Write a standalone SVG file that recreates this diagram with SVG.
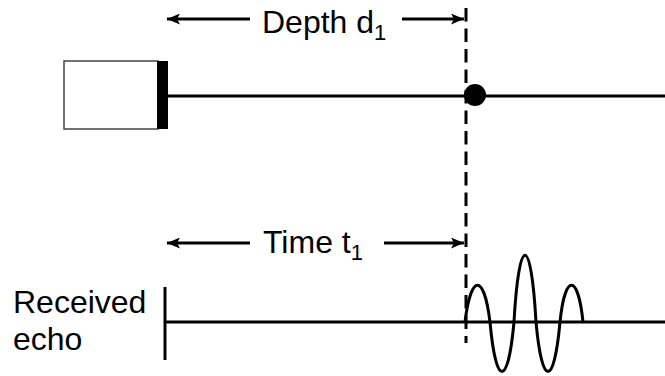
<svg xmlns="http://www.w3.org/2000/svg" width="665" height="376" viewBox="0 0 665 376">
<defs>
<style>
.ln{stroke:#000;stroke-width:3;fill:none}
.t{font-family:"Liberation Sans",Arial,sans-serif;font-size:32px;fill:#000}
.s{font-size:22px}
</style>
<marker id="ah" viewBox="0 0 13 11" refX="13" refY="5.5" markerWidth="13" markerHeight="11" markerUnits="userSpaceOnUse" orient="auto">
<path d="M0,0 L13,5.5 L0,11 L3,5.5 Z" fill="#000"/>
</marker>
</defs>
<rect width="665" height="376" fill="#fff"/>
<g id="transducer">
<rect x="64" y="61" width="94" height="68" fill="#fff" stroke="#444" stroke-width="1.5"/>
<rect x="157" y="61" width="11" height="68" fill="#000"/>
</g>
<g id="target">
<circle cx="475" cy="95" r="11" fill="#000"/>
</g>
<g id="labels">
<text class="t" x="262" y="33">Depth d<tspan class="s" dy="7">1</tspan></text>
<text class="t" x="263" y="253">Time t<tspan class="s" dy="7">1</tspan></text>
<text class="t" x="13" y="313">Received</text>
<text class="t" x="13" y="350">echo</text>
</g>
<g id="connectors">
<line class="ln" x1="168" y1="96" x2="665" y2="96"/>
<line class="ln" x1="466" y1="8" x2="466" y2="343" stroke-dasharray="13.5 7"/>
<line class="ln" x1="250" y1="19" x2="167" y2="19" marker-end="url(#ah)"/>
<line class="ln" x1="402" y1="19" x2="464" y2="19" marker-end="url(#ah)"/>
<line class="ln" x1="250" y1="243" x2="167" y2="243" marker-end="url(#ah)"/>
<line class="ln" x1="384" y1="243" x2="464" y2="243" marker-end="url(#ah)"/>
<line class="ln" x1="165" y1="287" x2="165" y2="360"/>
<line class="ln" x1="165" y1="322" x2="665" y2="322"/>
<path class="ln" stroke-width="4" d="M465,322 C471,273 484,273 490,322 C496,388 508,388 514,322 C519,233 531,233 536,322 C542,388 554,388 560,322 C565,273 578,273 583,322"/>
</g>
</svg>
